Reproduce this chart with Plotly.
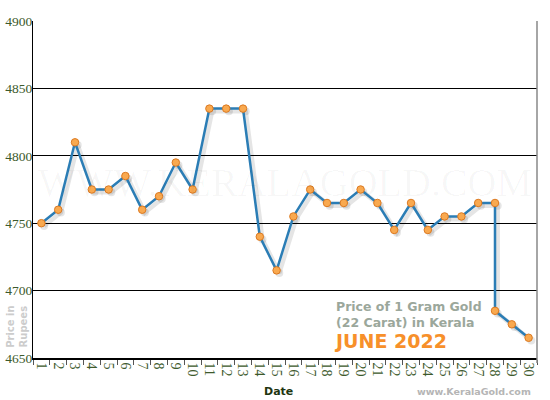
import plotly.graph_objects as go

dates = ["1", "2", "3", "4", "5", "6", "7", "8", "9", "10",
         "11", "12", "13", "14", "15", "16", "17", "18", "19", "20",
         "21", "22", "23", "24", "25", "26", "27", "28", "28", "29", "30"]
prices = [4750, 4760, 4810, 4775, 4775, 4785, 4760, 4770, 4795, 4775,
          4835, 4835, 4835, 4740, 4715, 4755, 4775, 4765, 4765, 4775,
          4765, 4745, 4765, 4745, 4755, 4755, 4765, 4765, 4685, 4675, 4665]
tick_labels = [str(d) for d in range(1, 31)]
y_ticks = [4650, 4700, 4750, 4800, 4850, 4900]

LINE = "#2b7db5"
MFILL = "#f9a94f"
MEDGE = "#dc7a22"
GREEN = "#3d5a2c"

fig = go.Figure()

# drop shadow (base axes, shifted a few pixels)
fig.add_trace(go.Scatter(
    x=dates, y=prices, mode="lines+markers", xaxis="x", yaxis="y",
    line=dict(color="rgba(0,0,0,0.10)", width=4.5),
    marker=dict(size=8, color="rgba(0,0,0,0.10)"),
    hoverinfo="skip", showlegend=False, cliponaxis=False))

# main series
fig.add_trace(go.Scatter(
    x=dates, y=prices, mode="lines+markers", xaxis="x2", yaxis="y2",
    line=dict(color=LINE, width=2.5),
    marker=dict(size=7.5, color=MFILL, line=dict(color=MEDGE, width=1)),
    showlegend=False, cliponaxis=False))

dx = 0.16
dy = 2.0
fig.update_layout(
    width=550, height=400,
    margin=dict(l=33, r=13, t=21, b=42),
    paper_bgcolor="white", plot_bgcolor="white",
    xaxis=dict(type="category", categoryorder="array", categoryarray=tick_labels,
               range=[-0.5 - dx, 29.5 - dx], showgrid=False, showline=False,
               showticklabels=False, ticks="", zeroline=False, automargin=False),
    yaxis=dict(range=[4650 + dy, 4900 + dy], showgrid=False, showline=False,
               showticklabels=False, ticks="", zeroline=False, automargin=False),
    xaxis2=dict(type="category", categoryorder="array", categoryarray=tick_labels,
                overlaying="x", anchor="y2", range=[-0.5, 29.5],
                tickvals=tick_labels, ticktext=tick_labels,
                tickson="boundaries", ticks="outside", ticklen=5, tickcolor="#555",
                tickwidth=1, tickangle=90, automargin=False,
                tickfont=dict(family="Liberation Serif", size=14, color=GREEN),
                showgrid=False, showline=True, linecolor="black", linewidth=1.5,
                zeroline=False),
    yaxis2=dict(overlaying="y", anchor="x2", side="left", range=[4650, 4900],
                tickvals=y_ticks, ticktext=[str(v) for v in y_ticks],
                showgrid=True, gridcolor="black", gridwidth=1, automargin=False,
                showline=True, linecolor="black", linewidth=1, ticks="",
                ticklabelstandoff=-3,
                tickfont=dict(family="Liberation Serif", size=13.5, color=GREEN),
                zeroline=False),
    shapes=[dict(type="line", xref="paper", yref="paper", x0=1, x1=1,
                 y0=-0.015, y1=1, line=dict(color="#888", width=1.5))],
    annotations=[
        dict(text="WWW.KERALAGOLD.COM", xref="paper", yref="paper",
             x=0.5, y=0.52, showarrow=False,
             font=dict(family="Liberation Serif", size=40, color="rgba(0,0,0,0.03)")),
        dict(text="Price of 1 Gram Gold<br>(22 Carat) in Kerala", xref="paper", yref="paper",
             x=0.597, y=0.13, xanchor="left", yanchor="middle", align="left",
             showarrow=False,
             font=dict(family="DejaVu Sans", size=12.5, color="#9ba79b", weight="bold")),
        dict(text="JUNE 2022", xref="paper", yref="paper",
             x=0.594, y=0.05, xanchor="left", yanchor="middle", showarrow=False,
             font=dict(family="DejaVu Sans", size=19, color="#f7902a", weight="bold")),
        dict(text="Date", xref="paper", yref="paper", x=0.487, y=-0.10,
             xanchor="center", yanchor="middle", showarrow=False,
             font=dict(family="DejaVu Sans", size=11, color="#1e3510", weight="bold")),
        dict(text="www.KeralaGold.com", xref="paper", yref="paper", x=0.992, y=-0.10,
             xanchor="right", yanchor="middle", showarrow=False,
             font=dict(family="DejaVu Sans", size=9.5, color="#b5b5b5", weight="bold")),
        dict(text="Price in<br>Rupees", xref="paper", yref="paper", x=-0.032, y=0.092,
             xanchor="center", yanchor="middle", showarrow=False, textangle=-90,
             font=dict(family="DejaVu Sans", size=10, color="#cccccc", weight="bold")),
    ],
)

fig.write_html("out.html", config={"displayModeBar": False},
               post_script="document.body.style.margin='0';")
